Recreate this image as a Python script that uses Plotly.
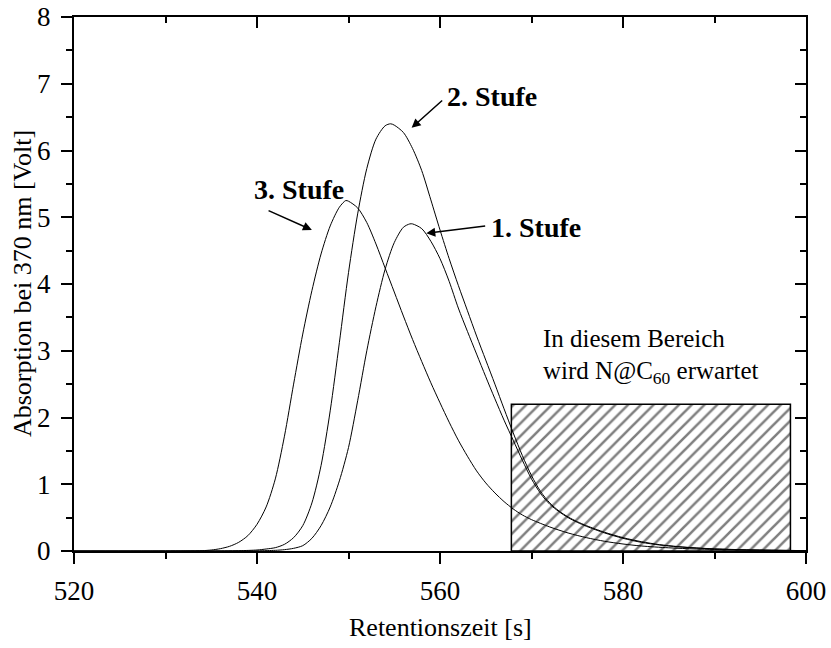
import plotly.graph_objects as go

# Stufe 1
x1 = [520, 530, 540, 542, 543, 544, 545, 546, 547, 548, 549, 550, 551, 552, 553, 554, 555, 556, 556.7,
      557, 558, 559, 560, 561, 562, 563, 564, 565, 566, 567, 568, 569, 570, 571, 572, 573, 574, 575, 576, 578,
      580, 582, 584, 586, 588, 590, 594, 600]
y1 = [0, 0, 0.003, 0.01, 0.02, 0.04, 0.08, 0.19, 0.38, 0.66, 1.05, 1.55, 2.25, 3.0, 3.66, 4.22, 4.62, 4.85, 4.9,
      4.9, 4.83, 4.64, 4.38, 4.04, 3.64, 3.29, 2.95, 2.61, 2.28, 1.96, 1.66, 1.36, 1.08, 0.86, 0.7, 0.59, 0.5, 0.43,
      0.37, 0.27, 0.19, 0.13, 0.09, 0.063, 0.044, 0.03, 0.015, 0.006]

# Stufe 2
x2 = [520, 530, 538, 540, 541, 542, 543, 544, 545, 546, 547, 548, 549, 550, 551, 552, 553, 554, 554.6,
      555, 556, 557, 558, 559, 560, 561, 562, 563, 564, 565, 566, 567, 568, 569, 570, 571, 572, 573,
      574, 575, 576, 578, 580, 582, 584, 586, 588, 590, 594, 600]
y2 = [0, 0, 0.005, 0.015, 0.03, 0.05, 0.1, 0.2, 0.38, 0.72, 1.28, 2.1, 3.12, 4.17, 5.05, 5.73, 6.17, 6.37, 6.4,
      6.38, 6.27, 6.03, 5.7, 5.26, 4.81, 4.38, 3.98, 3.6, 3.22, 2.86, 2.5, 2.13, 1.77, 1.43, 1.13, 0.89, 0.72, 0.6,
      0.51, 0.44, 0.38, 0.28, 0.2, 0.14, 0.095, 0.066, 0.046, 0.032, 0.016, 0.006]

# Stufe 3
x3 = [520, 530, 534, 535, 536, 537, 538, 539, 540, 541, 542, 543, 544, 545, 546, 547, 548, 549, 549.7,
      550, 551, 552, 553, 554, 555, 556, 557, 558, 559, 560, 561, 562, 563, 564, 565, 566, 567, 568,
      569, 570, 572, 574, 576, 578, 580, 582, 585, 588, 592, 596, 600]
y3 = [0, 0, 0.005, 0.015, 0.035, 0.07, 0.13, 0.23, 0.4, 0.66, 1.08, 1.72, 2.5, 3.25, 3.9, 4.45, 4.87, 5.15, 5.25,
      5.24, 5.14, 4.92, 4.6, 4.24, 3.88, 3.52, 3.17, 2.84, 2.52, 2.22, 1.93, 1.66, 1.42, 1.2, 1.02, 0.87, 0.74, 0.63,
      0.54, 0.47, 0.36, 0.27, 0.2, 0.145, 0.105, 0.075, 0.048, 0.03, 0.017, 0.01, 0.006]

# expected N@C60 region
region_x0, region_x1, region_h = 567.8, 598.3, 2.2

x_ticks = [520, 540, 560, 580, 600]
y_ticks = [0, 1, 2, 3, 4, 5, 6, 7, 8]

FONT = "Liberation Serif"

fig = go.Figure()

fig.add_trace(go.Scatter(
    x=[region_x0, region_x1, region_x1, region_x0, region_x0],
    y=[0, 0, region_h, region_h, 0],
    fill="toself", mode="lines",
    line=dict(color="black", width=1.5),
    fillcolor="white",
    fillpattern=dict(shape="/", fgcolor="black", bgcolor="white", size=9, solidity=0.28),
    hoverinfo="skip", showlegend=False))

for xs, ys in [(x1, y1), (x2, y2), (x3, y3)]:
    fig.add_trace(go.Scatter(x=xs, y=ys, mode="lines",
                             line=dict(color="black", width=1, shape="spline", smoothing=0.8),
                             showlegend=False))

# dummy trace so that the mirrored top/right axes are drawn
fig.add_trace(go.Scatter(x=[520], y=[0], xaxis="x2", yaxis="y2", mode="markers",
                         marker=dict(opacity=0), hoverinfo="skip", showlegend=False))

axis_common = dict(showgrid=False, zeroline=False, showline=True, linecolor="black", linewidth=2,
                   tickcolor="black", tickwidth=2, automargin=False)

fig.update_layout(
    width=831, height=648,
    margin=dict(l=74, r=25, t=17, b=97),
    paper_bgcolor="white", plot_bgcolor="white",
    font=dict(family=FONT, color="black"),
    xaxis=dict(range=[520, 600], tickvals=x_ticks, ticks="outside", ticklen=11,
               minor=dict(dtick=10, ticks="outside", ticklen=6, tickwidth=2, tickcolor="black"),
               tickfont=dict(size=27, family=FONT), ticklabelstandoff=4,
               **axis_common),
    yaxis=dict(range=[0, 8], tickvals=y_ticks, ticks="outside", ticklen=11,
               minor=dict(dtick=0.5, ticks="outside", ticklen=6, tickwidth=2, tickcolor="black"),
               tickfont=dict(size=27, family=FONT), ticklabelstandoff=5,
               **axis_common),
    xaxis2=dict(range=[520, 600], overlaying="x", side="top", tickvals=x_ticks, ticks="inside", ticklen=11,
                minor=dict(dtick=10, ticks="inside", ticklen=6, tickwidth=2, tickcolor="black"),
                showticklabels=False, **axis_common),
    yaxis2=dict(range=[0, 8], overlaying="y", side="right", tickvals=y_ticks, ticks="inside", ticklen=11,
                minor=dict(dtick=0.5, ticks="inside", ticklen=6, tickwidth=2, tickcolor="black"),
                showticklabels=False, **axis_common),
)

# axis titles
fig.add_annotation(x=0.5, y=-0.144, xref="paper", yref="paper", xanchor="center", yanchor="middle",
                   text="Retentionszeit [s]", showarrow=False,
                   font=dict(family=FONT, size=26, color="black"))
fig.add_annotation(x=-0.071, y=0.5, xref="paper", yref="paper", xanchor="center", yanchor="middle",
                   textangle=-90, text="Absorption bei 370 nm [Volt]", showarrow=False,
                   font=dict(family=FONT, size=26, color="black"))

label_font = dict(family=FONT, size=28, color="black")
fig.add_annotation(x=560.5, y=6.81, xref="x", yref="y", text="<b>2. Stufe</b>", showarrow=False,
                   xanchor="left", font=label_font)
fig.add_annotation(x=544.6, y=5.41, xref="x", yref="y", text="<b>3. Stufe</b>", showarrow=False,
                   xanchor="center", font=label_font)
fig.add_annotation(x=565.4, y=4.85, xref="x", yref="y", text="<b>1. Stufe</b>", showarrow=False,
                   xanchor="left", font=label_font)

arrows = [((560.4, 6.77), (556.9, 6.34)),
          ((541.1, 5.11), (546.0, 4.81)),
          ((565.1, 4.87), (558.5, 4.76))]
for (tx, ty), (hx, hy) in arrows:
    fig.add_annotation(x=hx, y=hy, ax=tx, ay=ty, xref="x", yref="y", axref="x", ayref="y",
                       text="", showarrow=True, arrowhead=2, arrowsize=1.2, arrowwidth=1.5, arrowcolor="black")

note_font = dict(family=FONT, size=25, color="black")
fig.add_annotation(x=571.0, y=3.19, xref="x", yref="y", text="In diesem Bereich", showarrow=False,
                   xanchor="left", font=note_font)
fig.add_annotation(x=571.0, y=2.68, xref="x", yref="y", text="wird N@C<sub>60</sub> erwartet", showarrow=False,
                   xanchor="left", font=note_font)

fig.write_html(
    "out.html",
    config={"displayModeBar": False},
    post_script="document.body.style.margin='0px';document.body.style.padding='0px';"
                "document.body.style.overflow='hidden';",
)
